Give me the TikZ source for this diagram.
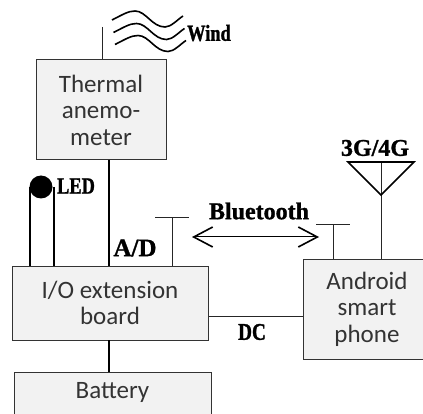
\documentclass[tikz,border=0pt]{standalone}
\usepackage{fontspec}
\setmainfont{Carlito}
\newfontfamily\labelfont[FakeBold=1.2]{Liberation Serif}
\newfontfamily\narrowfont[FakeStretch=0.8,FakeBold=1.2]{Liberation Serif}
\usetikzlibrary{arrows.meta}
\definecolor{boxgray}{HTML}{F2F2F2}
\definecolor{boxtext}{HTML}{333333}
\begin{document}
\begin{tikzpicture}[x=1pt, y=-1pt]
    \tikzset{
      unit/.style={draw=black!80, fill=boxgray, text=boxtext, line width=1pt, inner sep=0pt, align=center, font=\fontsize{25}{26.5}\selectfont},
      tag/.style={inner sep=0pt, text=black, font=\labelfont\bfseries\fontsize{#1}{#1}\selectfont},
      narrowtag/.style={inner sep=0pt, text=black, font=\narrowfont\bfseries\fontsize{#1}{#1}\selectfont},
      link/.style={draw=black!85, line width=1pt},
      wire/.style={draw=black, line width=2pt},
      radio/.style={<->, > = {Straight Barb[length=19pt, width=20pt, line width=1.6pt]}, line width=1pt}
    }
    \useasboundingbox (0,0) rectangle (423,414);
    \clip (0,0) rectangle (423,414);

    \draw (101,110) node (thermal) [unit, minimum width=130pt, minimum height=100pt] {Thermal\\anemo-\\meter};
    \draw (110,303) node (board) [unit, minimum width=196pt, minimum height=74pt] {I/O extension\\board};
    \draw (112.5,408) node (battery) [unit, minimum width=197pt, minimum height=72pt] {};
    \draw (112.5,392) node (batterytext) [text=boxtext, inner sep=0pt, font=\fontsize{25}{26.5}\selectfont] {Battery};
    \draw (367,309) node (phone) [unit, minimum width=128pt, minimum height=100pt] {Android\\smart\\phone};

    \draw (41,187) node (led) [circle, fill=black, inner sep=0pt, minimum size=23pt] {};
    \draw (76,186) node (ledtag) [narrowtag=23] {LED};
    \draw (209,33) node (windtag) [narrowtag=23] {Wind};
    \draw (135,248) node (adtag) [tag=25] {A/D};
    \draw (259,211) node (bttag) [tag=24] {Bluetooth};
    \draw (252,332) node (dctag) [narrowtag=24] {DC};
    \draw (375,148) node (gsmtag) [tag=24] {3G/4G};

    \coordinate (probe) at (102,27);
    \coordinate (btleft) at (172,218);
    \coordinate (btright) at (333,225);
    \coordinate (apex) at (381,195);
    \coordinate (mast) at (381,162);

    \draw[link] (probe) -- (probe |- thermal.north);
    \draw[wire] (109,160) -- (109,266);
    \draw[wire] (109,340) -- (109,372);
    \foreach \x in {30, 54}
      \draw[wire] (\x,187) -- (\x,266);

    % bluetooth stubs
    \draw[link] (btleft) -- (btleft |- board.north);
    \draw[link] (155,218) -- (189,218);
    \draw[link] (btright) -- (btright |- phone.north);
    \draw[link] (316,225) -- (350,225);
    \draw[radio] (192,237) -- (319,237);

    % antenna
    \draw[link] (mast) -- (mast |- phone.north);
    \draw[line width=1.6pt, line join=miter] (348,162) -- (414,162) -- (apex) -- cycle;

    \draw[link] (board.east |- 0,316) -- (phone.west |- 0,316);

    % wind
    \foreach \dx/\dy in {0/0, 1.5/12.5, 3/24.5}
      \draw[line width=1.6pt, shift={(\dx,\dy)}] (112,20) .. controls (122,15) and (128,11) .. (135,11)
        .. controls (146,11) and (152,27) .. (165,27) .. controls (171,27) and (177,20) .. (183,16);
  \end{tikzpicture}
\end{document}
